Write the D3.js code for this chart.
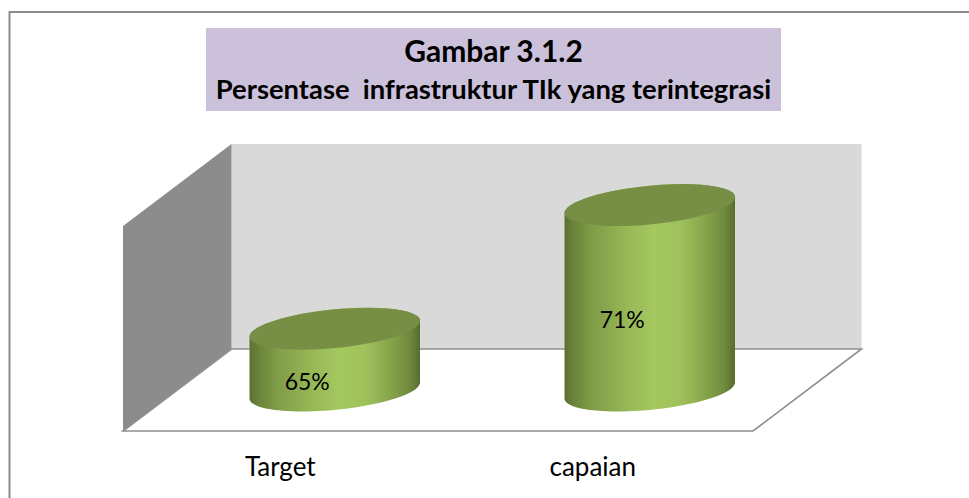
<!DOCTYPE html>
<html><head><meta charset="utf-8">
<script src="https://cdn.jsdelivr.net/npm/d3@7/dist/d3.min.js"></script>
<style>html,body{margin:0;background:#fff}svg{display:block}text{font-family:Lato,"Open Sans",sans-serif;fill:#000}</style>
</head><body><svg id="c" width="969" height="498"></svg>
<script>
const categories = ["Target", "capaian"];
const values = [65, 71];
const valueLabels = ["65%", "71%"];
const titleLines = ["Gambar 3.1.2", "Persentase  infrastruktur TIk yang terintegrasi"];
const valueDomain = [62, 72];

const svg = d3.select("#c");
// chart frame: left and top edges only reach the picture
svg.append("path").attr("d","M9.5 498V12H969").attr("fill","none").attr("stroke","#8c8c8c").attr("stroke-width",2);

// 3-D box geometry
const front = {l:123, r:753, b:431, t:226}, dx = 108.5, dy = -82;
const x = d3.scaleBand().domain(categories).range([front.l + dx/2, front.r + dx/2]);
const y = d3.scaleLinear().domain(valueDomain).range([0, front.b - front.t + 1]);
const labelX = d3.scaleBand().domain(categories).range([front.l + 1, front.r - 4]);

svg.append("path").attr("fill","#d9d9d9")
  .attr("d",`M${front.l+dx} ${front.t+dy}H${front.r+dx}V${front.b+dy}H${front.l+dx}Z`);
svg.append("path").attr("fill","#8c8c8c")
  .attr("d",`M${front.l} ${front.t}L${front.l+dx} ${front.t+dy}V${front.b+dy}L${front.l} ${front.b}Z`);
svg.append("path").attr("fill","#fff").attr("stroke","#8f8f8f").attr("stroke-width",1.6)
  .attr("d",`M${front.l} ${front.b}L${front.l+dx} ${front.b+dy}H${front.r+dx}L${front.r} ${front.b}Z`);

// gradient
const g = svg.append("defs").append("linearGradient").attr("id","cyl").attr("x1",0).attr("x2",1).attr("y1",0).attr("y2",0);
[[0,"#5b7232"],[.06,"#6b853a"],[.16,"#7f9c48"],[.38,"#98b957"],[.52,"#a4c75f"],[.68,"#a0c25c"],[.84,"#84a149"],[.94,"#6f8a3e"],[1,"#566c2e"]]
 .forEach(s=>g.append("stop").attr("offset",s[0]).attr("stop-color",s[1]));

// cylinders
const A = x.bandwidth()*0.2706, S = 8, B = 19.4, baseCy = 390.5;
const pt = (cx,cy,t)=>[cx+A*Math.cos(t), cy - S*Math.cos(t) + B*Math.sin(t)];
const arc = (cx,cy,a0,a1)=>d3.range(0,49).map(i=>pt(cx,cy,a0+(a1-a0)*i/48));
const line = d3.line();
const bars = svg.selectAll("g.bar").data(categories).join("g").attr("class","bar");
bars.append("path").attr("fill","url(#cyl)").attr("d",(d,i)=>{
  const cx = x(d)+x.bandwidth()/2, topCy = baseCy - y(values[i]);
  const lower = arc(cx,baseCy,0,Math.PI);            // right to left via the lower side
  const upper = arc(cx,topCy,Math.PI,2*Math.PI);     // left to right via the upper side
  return line([...upper,...lower])+"Z";
});
bars.append("path").attr("fill","#778f45").attr("d",(d,i)=>{
  const cx = x(d)+x.bandwidth()/2, topCy = baseCy - y(values[i]);
  return line(arc(cx,topCy,0,2*Math.PI))+"Z";
});

// data labels
svg.selectAll("text.val").data(values).join("text").attr("class","val")
  .attr("x",(d,i)=>x(categories[i])+x.bandwidth()/2-27.5)
  .attr("y",d=>baseCy - y(d)/2 + 30.5)
  .attr("text-anchor","middle").attr("font-size",23).text((d,i)=>valueLabels[i]);

// category labels
svg.selectAll("text.cat").data(categories).join("text").attr("class","cat")
  .attr("x",d=>labelX(d)+labelX.bandwidth()/2)
  .attr("y",476).attr("text-anchor","middle").attr("font-size",26).text(d=>d);

// title
svg.append("rect").attr("x",206).attr("y",28).attr("width",575).attr("height",83).attr("fill","#ccc1da");
svg.selectAll("text.t").data(titleLines).join("text").attr("class","t")
  .attr("x",493.5).attr("y",(d,i)=>[62,99][i]).attr("text-anchor","middle")
  .attr("font-weight",700).attr("font-size",(d,i)=>[30,27.4][i])
  .style("white-space","pre").text(d=>d);
</script></body></html>
